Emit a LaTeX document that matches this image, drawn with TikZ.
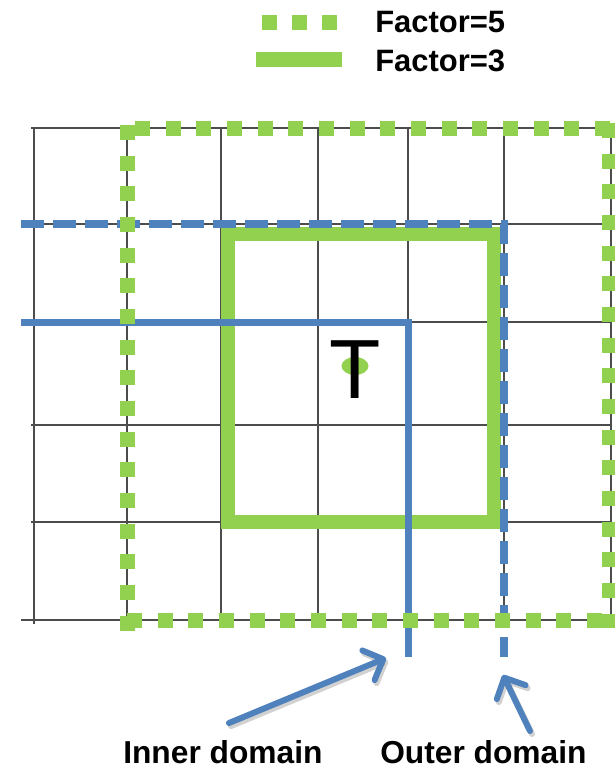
\documentclass[tikz,border=0pt]{standalone}
\usepackage{fontspec}
\setmainfont{Liberation Sans}
\usetikzlibrary{arrows.meta}
\definecolor{fgreen}{HTML}{92D050}
\definecolor{dblue}{HTML}{4F81BD}
\begin{document}
\begin{tikzpicture}[x=0.75pt,y=-0.75pt,
  gridline/.style={draw=black!70,line width=0.9pt},
  fivedots/.style={draw=fgreen,line width=11.25pt,dash pattern=on 11.25pt off 11.75pt},
  threeline/.style={draw=fgreen,line width=10.5pt,line join=miter},
  outerdom/.style={draw=dblue,line width=6pt,dash pattern=on 17.6pt off 6.4pt,line join=miter},
  innerdom/.style={draw=dblue,line width=5.25pt,line join=miter},
  pointer/.style={draw=dblue,line width=4.5pt,line cap=round,-{Straight Barb[length=12pt,width=24pt,round]}},
  pshadow/.style={pointer,draw=black,opacity=0.18},
  lbl/.style={font=\bfseries\fontsize{23.8}{28}\selectfont,inner sep=0pt,anchor=base west},
  leg/.style={font=\bfseries\fontsize{23.2}{28}\selectfont,inner sep=0pt,anchor=base west}
]
\useasboundingbox (0,0) rectangle (615,769);

% grid
\foreach \x in {127,221,318,408,504} \draw[gridline] (\x,128) -- (\x,620);
\draw[gridline] (34,128) -- (34,624);
\draw[gridline] (611,128) -- (611,625);
\foreach \y in {128,224,322,425,522} \draw[gridline] (31,\y) -- (611,\y);
\draw[gridline] (21,620) -- (611,620);

% factor 3 rectangle
\draw[threeline] (228,234) rectangle (494,522);

% domains
\draw[outerdom] (21,224) -- (504,224) -- (504,657);
\draw[innerdom] (21,322) -- (408,322) -- (408,657);

% factor 5 rectangle
\draw[fivedots] (135,128.5) -- (615,128.5);
\draw[fivedots] (609.5,123) -- (609.5,628);
\draw[fivedots] (127,125) -- (127,631);
\draw[fivedots] (127,620) -- (615,620);

% marker
\fill[fgreen] (355,366) ellipse [x radius=13.5, y radius=9];
\node[font=\fontsize{63}{70}\selectfont,inner sep=0pt,anchor=base] (tmark) at (355.5,398) {T};

% legend
\draw[fivedots,dash pattern=on 11.25pt off 11.25pt] (262,22.5) -- (337,22.5);
\draw[threeline,line width=11.25pt] (256,59.5) -- (342,59.5);
\node[leg] (f5) at (375,32) {Factor=5};
\node[leg] (f3) at (375,71) {Factor=3};

% labels and pointers
\node[lbl] (innerlabel) at (123,763) {Inner domain};
\node[lbl] (outerlabel) at (380,763) {Outer domain};
\coordinate (innerTail) at (229,723);
\coordinate (innerTip) at (386,658);
\coordinate (outerTail) at (530,731);
\coordinate (outerTip) at (503,675);
\draw[pshadow] ([shift={(2,3)}]innerTail) -- ([shift={(2,3)}]innerTip);
\draw[pshadow] ([shift={(2,3)}]outerTail) -- ([shift={(2,3)}]outerTip);
\draw[pointer] (innerTail) -- (innerTip);
\draw[pointer] (outerTail) -- (outerTip);
\end{tikzpicture}
\end{document}
